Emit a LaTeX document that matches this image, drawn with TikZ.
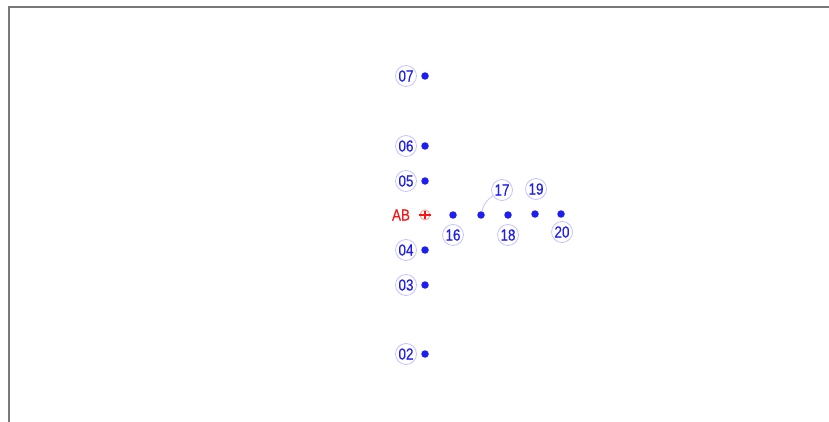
\documentclass[tikz,border=0pt]{standalone}
\usepackage{fontspec}
\setmainfont{Liberation Sans}
\newfontfamily\narrowsans[FakeStretch=0.84, FakeBold=0.4]{Liberation Sans}
\definecolor{ptblue}{RGB}{30,30,240}
\definecolor{ringblue}{RGB}{195,195,255}
\definecolor{ptred}{RGB}{250,20,20}
\definecolor{framegray}{RGB}{120,120,120}
\begin{document}
\begin{tikzpicture}[
  x=1pt, y=-1pt,
  pt/.style={circle, fill=ptblue, inner sep=0pt, minimum size=7.5pt},
  lbl/.style={circle, draw=ringblue, line width=0.8pt, inner sep=0pt, minimum size=21pt, text=ptblue, font=\narrowsans\fontsize{16}{17}\selectfont}
]
\useasboundingbox (0,0) rectangle (829,422);
\draw[framegray, line width=1.5pt] (9,422) -- (9,7) -- (829,7);
% vertical column
\foreach \n/\y in {07/76, 06/146, 05/181, 04/250, 03/285, 02/354} {
  \node[pt] (d\n) at (425,\y) {};
  \node[lbl] (l\n) at (406,\y) {\n};
}
% reference point
\node[circle, draw=ptred!45, line width=0.8pt, inner sep=0pt, minimum size=10pt] (ab) at (425,215) {};
\draw[ptred, line width=1.1pt] ([yshift=-1pt]ab.north) -- ([yshift=1pt]ab.south) ([xshift=-1pt]ab.west) -- ([xshift=1pt]ab.east);
\node[text=ptred, font=\narrowsans\fontsize{16}{17}\selectfont] (abl) at (401,215) {AB};
% horizontal row
\foreach \n/\x/\y/\lx/\ly in {16/453/215/453/235, 17/481/215/502/190, 18/508/215/508/235, 19/535/214/536/189, 20/561/214/562/232} {
  \node[pt] (d\n) at (\x,\y) {};
  \node[lbl] (l\n) at (\lx,\ly) {\n};
}
\draw[ringblue, line width=0.8pt] (d17) .. controls (484,203) and (488,199) .. (l17);
\end{tikzpicture}
\end{document}
